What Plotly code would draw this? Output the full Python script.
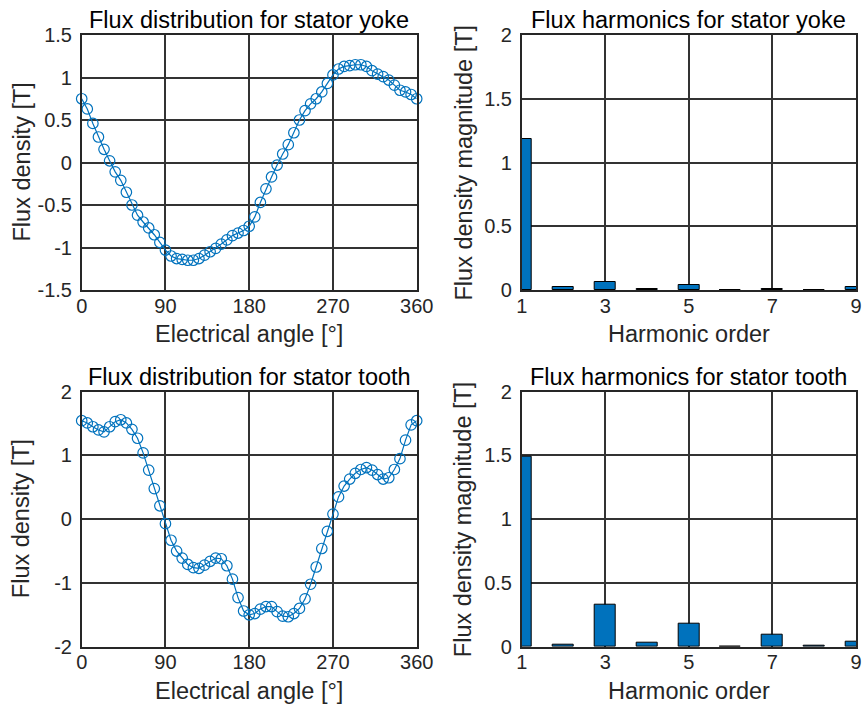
import plotly.graph_objects as go

# ---------------- data ----------------
angle = [i * 6 for i in range(61)]  # electrical angle [deg], 6 deg step

yoke_flux = [0.75, 0.63, 0.46, 0.30, 0.155, 0.02, -0.11, -0.21, -0.35, -0.50,
             -0.62, -0.70, -0.77, -0.85, -0.94, -1.03, -1.10, -1.13, -1.14, -1.15,
             -1.15, -1.13, -1.09, -1.05, -1.01, -0.96, -0.91, -0.86, -0.83, -0.80,
             -0.75, -0.64, -0.47, -0.31, -0.17, -0.03, 0.10, 0.21, 0.35, 0.50,
             0.61, 0.69, 0.75, 0.83, 0.93, 1.03, 1.10, 1.13, 1.14, 1.15,
             1.15, 1.13, 1.08, 1.04, 1.01, 0.97, 0.91, 0.85, 0.83, 0.80, 0.75]

tooth_flux = [1.545, 1.51, 1.45, 1.40, 1.37, 1.45, 1.53, 1.56, 1.51, 1.41,
              1.27, 1.04, 0.77, 0.48, 0.21, -0.07, -0.33, -0.50, -0.61, -0.71,
              -0.76, -0.77, -0.72, -0.66, -0.61, -0.62, -0.73, -0.94, -1.23, -1.44,
              -1.50, -1.48, -1.41, -1.37, -1.37, -1.45, -1.52, -1.53, -1.48, -1.40,
              -1.25, -1.02, -0.75, -0.46, -0.19, 0.08, 0.35, 0.52, 0.63, 0.72,
              0.78, 0.81, 0.77, 0.70, 0.63, 0.65, 0.78, 0.95, 1.24, 1.48, 1.545]

harmonic_order = [1, 2, 3, 4, 5, 6, 7, 8, 9]
yoke_harm = [1.185, 0.02, 0.06, 0.005, 0.04, 0.002, 0.01, 0.002, 0.02]
tooth_harm = [1.49, 0.013, 0.326, 0.03, 0.178, 0.003, 0.091, 0.008, 0.037]

angle_ticks = [0, 90, 180, 270, 360]
angle_ticktext = ["0", "90", "180", "270", "360"]
yoke_ticks = [-1.5, -1, -0.5, 0, 0.5, 1, 1.5]
yoke_ticktext = ["-1.5", "-1", "-0.5", "0", "0.5", "1", "1.5"]
tooth_ticks = [-2, -1, 0, 1, 2]
tooth_ticktext = ["-2", "-1", "0", "1", "2"]
harm_ticks = [1, 3, 5, 7, 9]
harm_ticktext = ["1", "3", "5", "7", "9"]
mag_ticks = [0, 0.5, 1, 1.5, 2]
mag_ticktext = ["0", "0.5", "1", "1.5", "2"]

titles = ["Flux distribution for stator yoke", "Flux harmonics for stator yoke",
          "Flux distribution for stator tooth", "Flux harmonics for stator tooth"]
xlabels = ["Electrical angle [°]", "Harmonic order"]
ylabels = ["Flux density [T]", "Flux density magnitude [T]"]

# ---------------- layout geometry (pixels) ----------------
W, H = 862, 706
BLUE = "#0072BD"
AX = "#262626"
FONT = "Liberation Sans, Arial, sans-serif"

col_x = [(81.7, 416.7), (521.7, 856.0)]
row_y = [(35.0, 290.0), (391.7, 646.7)]


def px_x(x):
    return x / W


def px_y(y):
    return 1 - y / H


fig = go.Figure()

fig.add_trace(go.Scatter(x=angle, y=yoke_flux, mode="lines+markers",
                         line=dict(color=BLUE, width=1.2),
                         marker=dict(symbol="circle-open", size=10.5, color=BLUE,
                                     line=dict(width=1.2, color=BLUE)),
                         cliponaxis=False, xaxis="x", yaxis="y", showlegend=False))
fig.add_trace(go.Bar(x=harmonic_order, y=yoke_harm, width=0.5,
                     marker=dict(color=BLUE, line=dict(color="#000000", width=1)),
                     xaxis="x2", yaxis="y2", showlegend=False))
fig.add_trace(go.Scatter(x=angle, y=tooth_flux, mode="lines+markers",
                         line=dict(color=BLUE, width=1.2),
                         marker=dict(symbol="circle-open", size=10.5, color=BLUE,
                                     line=dict(width=1.2, color=BLUE)),
                         cliponaxis=False, xaxis="x3", yaxis="y3", showlegend=False))
fig.add_trace(go.Bar(x=harmonic_order, y=tooth_harm, width=0.5,
                     marker=dict(color=BLUE, line=dict(color="#000000", width=1)),
                     xaxis="x4", yaxis="y4", showlegend=False))


def axis_common():
    return dict(showline=True, mirror=True, linecolor=AX, linewidth=1.5,
                showgrid=True, gridcolor="#333333", gridwidth=1.5,
                zeroline=False, ticks="", tickmode="array", automargin=False,
                tickfont=dict(family=FONT, size=20, color=AX))


specs = [
    (0, 0, [0, 360], angle_ticks, angle_ticktext, [-1.5, 1.5], yoke_ticks, yoke_ticktext),
    (0, 1, [1, 9], harm_ticks, harm_ticktext, [0, 2], mag_ticks, mag_ticktext),
    (1, 0, [0, 360], angle_ticks, angle_ticktext, [-2, 2], tooth_ticks, tooth_ticktext),
    (1, 1, [1, 9], harm_ticks, harm_ticktext, [0, 2], mag_ticks, mag_ticktext),
]

layout_axes = {}
annotations = []
for i, (r, c, xr, xt, xtt, yr, yt, ytt) in enumerate(specs):
    n = "" if i == 0 else str(i + 1)
    xa = axis_common()
    xa.update(domain=[px_x(col_x[c][0]), px_x(col_x[c][1])], range=xr,
              tickvals=xt, ticktext=xtt, anchor="y" + n, ticklabelstandoff=-3)
    ya = axis_common()
    ya.update(domain=[px_y(row_y[r][1]), px_y(row_y[r][0])], range=yr,
              tickvals=yt, ticktext=ytt, anchor="x" + n, ticklabelstandoff=4)
    layout_axes["xaxis" + n] = xa
    layout_axes["yaxis" + n] = ya

    cx = (col_x[c][0] + col_x[c][1]) / 2
    cy = (row_y[r][0] + row_y[r][1]) / 2
    # title
    annotations.append(dict(text=titles[i], x=px_x(cx), y=px_y(row_y[r][0] - 15),
                            xref="paper", yref="paper", showarrow=False,
                            xanchor="center", yanchor="middle",
                            font=dict(family=FONT, size=23.5, color="#000000")))
    # x label
    annotations.append(dict(text=xlabels[c], x=px_x(cx), y=px_y(row_y[r][1] + 44),
                            xref="paper", yref="paper", showarrow=False,
                            xanchor="center", yanchor="middle",
                            font=dict(family=FONT, size=23.5, color=AX)))
    # y label
    ylx = 21 if c == 0 else 463
    annotations.append(dict(text=ylabels[c], x=px_x(ylx), y=px_y(cy),
                            xref="paper", yref="paper", showarrow=False,
                            xanchor="center", yanchor="middle", textangle=-90,
                            font=dict(family=FONT, size=23.5, color=AX)))

fig.update_layout(width=W, height=H, autosize=False,
                  margin=dict(l=0, r=0, t=0, b=0, pad=0),
                  paper_bgcolor="#ffffff", plot_bgcolor="#ffffff",
                  annotations=annotations, bargap=0, **layout_axes)

fig.write_html("out.html")
